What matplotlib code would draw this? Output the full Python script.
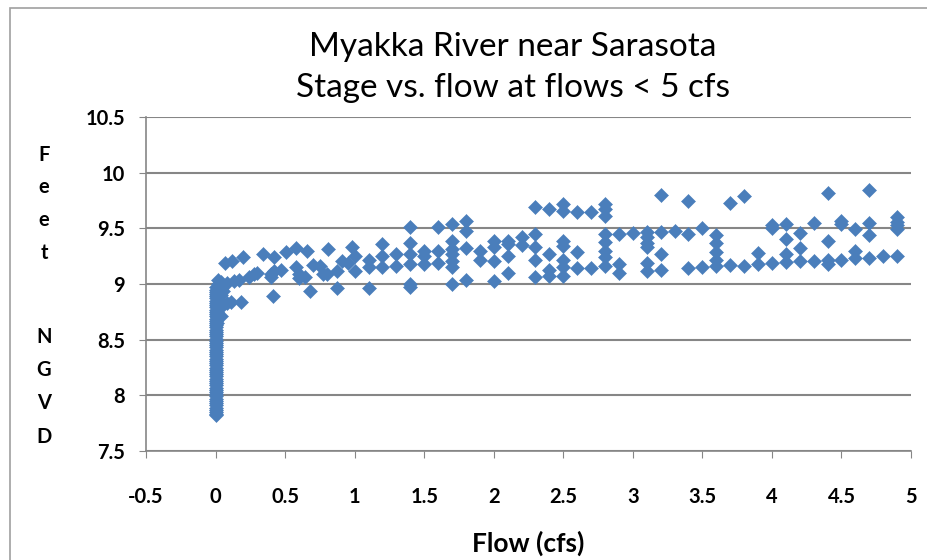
import matplotlib
matplotlib.use('Agg')
import matplotlib.pyplot as plt
from matplotlib.patches import Rectangle
from matplotlib.ticker import FuncFormatter

# Stage (ft NGVD) readings at zero flow (the vertical stem)
zero_stage = [7.82, 7.83, 7.85, 7.87, 7.89, 7.91, 7.93, 7.95, 7.97, 7.99,
              8.01, 8.03, 8.05, 8.07, 8.09, 8.11, 8.13, 8.15, 8.17, 8.19,
              8.21, 8.23, 8.25, 8.27, 8.29, 8.31, 8.33, 8.35, 8.37, 8.39,
              8.41, 8.43, 8.45, 8.47, 8.49, 8.51, 8.53, 8.55, 8.57, 8.59,
              8.61, 8.63, 8.65, 8.67, 8.69, 8.71, 8.73, 8.75, 8.77, 8.79,
              8.81, 8.83, 8.85, 8.87, 8.89, 8.91, 8.93, 8.95, 8.97]

# Readings at flows of 0.01 - 0.05 cfs
tiny_flow = [0.01] * 7 + [0.02] * 6 + [0.03] * 3 + [0.04] * 5 + [0.05] * 2
tiny_stage = [8.65, 8.70, 8.75, 8.80, 8.85, 8.90, 8.95,
              8.72, 8.80, 8.88, 8.93, 8.97, 9.00,
              8.85, 8.92, 8.97,
              8.71, 8.79, 8.90, 8.96, 9.02,
              8.94, 8.99]

# Low flows (hundredths of cfs)
low_flow = [0.07, 0.12, 0.20, 0.34, 0.42, 0.51, 0.58, 0.66, 0.70, 0.77,
            0.02, 0.08, 0.13, 0.17, 0.24, 0.28, 0.30, 0.40, 0.42, 0.47,
            0.40, 0.41, 0.58, 0.60, 0.60, 0.64, 0.68, 0.08, 0.11, 0.18,
            0.81, 0.98, 0.75, 0.80, 0.87, 0.91, 0.95, 1.00, 1.00, 0.87]
low_stage = [9.19, 9.21, 9.24, 9.27, 9.24, 9.29, 9.32, 9.30, 9.17, 9.09,
             9.04, 9.01, 9.03, 9.04, 9.06, 9.09, 9.10, 9.09, 9.12, 9.13,
             9.06, 8.89, 9.15, 9.09, 9.05, 9.06, 8.94, 8.83, 8.84, 8.84,
             9.31, 9.33, 9.16, 9.09, 9.12, 9.21, 9.19, 9.25, 9.12, 8.96]

# Flows from 1.1 to 4.9 cfs (tenths)
high_flow = ([1.1] * 3 + [1.2] * 3 + [1.3] * 2 + [1.4] * 6 + [1.5] * 3 + [1.6] * 3
             + [1.7] * 7 + [1.8] * 4 + [1.9] * 2 + [2.0] * 4 + [2.1] * 4 + [2.2] * 2
             + [2.3] * 5 + [2.4] * 4 + [2.5] * 7 + [2.6] * 3 + [2.7] * 2 + [2.8] * 8
             + [2.9] * 3 + [3.0] * 1 + [3.1] * 6 + [3.2] * 4 + [3.3] * 1 + [3.4] * 3
             + [3.5] * 2 + [3.6] * 5 + [3.7] * 2 + [3.8] * 2 + [3.9] * 2 + [4.0] * 3
             + [4.1] * 4 + [4.2] * 3 + [4.3] * 2 + [4.4] * 4 + [4.5] * 3 + [4.6] * 3
             + [4.7] * 4 + [4.8] * 1 + [4.9] * 5)
high_stage = [9.22, 9.15, 8.96,
              9.36, 9.25, 9.15,
              9.27, 9.16,
              9.51, 9.37, 9.27, 9.18, 9.00, 8.97,
              9.30, 9.25, 9.18,
              9.51, 9.30, 9.19,
              9.54, 9.39, 9.31, 9.27, 9.21, 9.15, 9.00,
              9.57, 9.48, 9.32, 9.04,
              9.30, 9.22,
              9.39, 9.33, 9.21, 9.03,
              9.39, 9.36, 9.25, 9.10,
              9.42, 9.35,
              9.69, 9.45, 9.33, 9.22, 9.06,
              9.67, 9.27, 9.13, 9.07,
              9.72, 9.66, 9.39, 9.34, 9.22, 9.15, 9.07,
              9.65, 9.29, 9.14,
              9.65, 9.14,
              9.72, 9.67, 9.61, 9.45, 9.38, 9.30, 9.24, 9.16,
              9.45, 9.18, 9.10,
              9.46,
              9.47, 9.42, 9.37, 9.33, 9.19, 9.12,
              9.80, 9.47, 9.27, 9.13,
              9.48,
              9.75, 9.45, 9.14,
              9.50, 9.15,
              9.44, 9.37, 9.29, 9.22, 9.16,
              9.73, 9.17,
              9.79, 9.16,
              9.28, 9.18,
              9.53, 9.50, 9.19,
              9.54, 9.40, 9.27, 9.20,
              9.46, 9.32, 9.21,
              9.55, 9.21,
              9.82, 9.39, 9.22, 9.18,
              9.57, 9.54, 9.22,
              9.49, 9.30, 9.23,
              9.84, 9.55, 9.44, 9.23,
              9.25,
              9.60, 9.56, 9.53, 9.49, 9.25]

x_ticks = [-0.5, 0, 0.5, 1, 1.5, 2, 2.5, 3, 3.5, 4, 4.5, 5]
y_ticks = [7.5, 8, 8.5, 9, 9.5, 10, 10.5]
ylabel_letters = ['F', 'e', 'e', 't', 'N', 'G', 'V', 'D']

W, H = 927, 560
fig = plt.figure(figsize=(W / 100, H / 100), dpi=100, facecolor='white')
ax = fig.add_axes([146 / W, 1 - 451 / H, (911 - 146) / W, (451 - 117) / H])

blue = '#4a7ebb'
grey = '#868686'
font = 'Lato'

flow = [0.0] * len(zero_stage) + tiny_flow + low_flow + high_flow
stage = zero_stage + tiny_stage + low_stage + high_stage
ax.plot(flow, stage, linestyle='none', marker='D', ms=6.9,
        color=blue, mec=blue, mew=0.4, zorder=3)

ax.set_xlim(-0.5, 5)
ax.set_ylim(7.5, 10.5)
ax.set_xticks(x_ticks)
ax.set_yticks(y_ticks)
fmt = FuncFormatter(lambda v, p: '{:g}'.format(v))
ax.xaxis.set_major_formatter(fmt)
ax.yaxis.set_major_formatter(fmt)

# Excel-like look: horizontal gridlines, left/bottom axis lines only
ax.grid(axis='y', color=grey, linewidth=1.5)
ax.set_axisbelow(True)
for side in ['top', 'right']:
    ax.spines[side].set_visible(False)
for side in ['left', 'bottom']:
    ax.spines[side].set_color(grey)
    ax.spines[side].set_linewidth(1.2)
ax.tick_params(axis='x', direction='out', length=5, color=grey, pad=21)
ax.tick_params(axis='y', direction='out', length=5, color=grey, pad=10)
for lab in ax.get_xticklabels() + ax.get_yticklabels():
    lab.set_fontfamily(font)
    lab.set_fontweight('bold')
    lab.set_fontsize(14.5)

# Title (two lines)
fig.text(513 / W, 1 - 47 / H, 'Myakka River near Sarasota', ha='center', va='center',
         fontsize=24, family=font)
fig.text(513 / W, 1 - 88 / H, 'Stage vs. flow at flows < 5 cfs', ha='center', va='center',
         fontsize=24, family=font)

# Stacked vertical axis label
ylab_y = [155, 187, 220, 253, 337, 370, 403, 437]
for letter, py in zip(ylabel_letters, ylab_y):
    fig.text(44 / W, 1 - py / H, letter, ha='center', va='center',
             fontsize=14.5, fontweight='bold', family=font)

fig.text(528 / W, 1 - 543 / H, 'Flow (cfs)', ha='center', va='center',
         fontsize=19, fontweight='bold', family=font)

# Chart area border (partly cut off at right and bottom)
fig.patches.append(Rectangle((10 / W, -0.05), 1.0, 1 - 8 / H + 0.05,
                             transform=fig.transFigure, fill=False,
                             edgecolor='#a0a0a0', linewidth=1.2))

plt.savefig('out.png', dpi=100)
